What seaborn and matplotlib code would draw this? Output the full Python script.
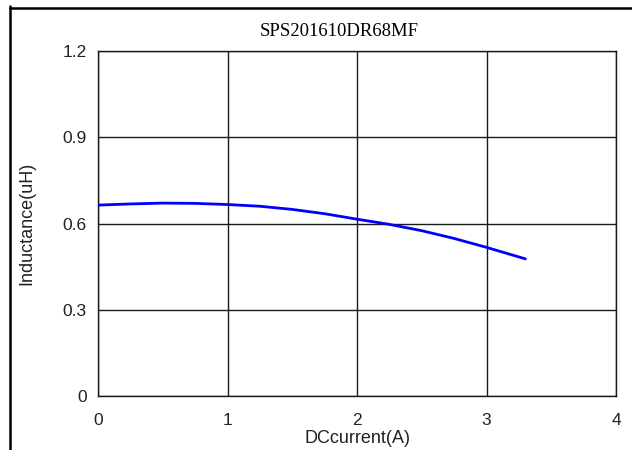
import matplotlib
matplotlib.use("Agg")
import matplotlib.pyplot as plt
from matplotlib.lines import Line2D
import seaborn as sns

# values
current_a = [0.0, 0.25, 0.5, 0.75, 1.0, 1.25, 1.5, 1.75, 2.0, 2.25, 2.5, 2.75, 3.0, 3.3]
inductance_uh = [0.664, 0.668, 0.671, 0.670, 0.666, 0.660, 0.649, 0.634, 0.615, 0.597,
                 0.575, 0.548, 0.517, 0.477]

x_ticks = [0, 1, 2, 3, 4]
x_tick_labels = ["0", "1", "2", "3", "4"]
y_ticks = [0, 0.3, 0.6, 0.9, 1.2]
y_tick_labels = ["0", "0.3", "0.6", "0.9", "1.2"]

TITLE = "SPS201610DR68MF"
W, H = 632, 450

sns.set_style("white")
plt.rcParams["font.family"] = ["Liberation Sans", "DejaVu Sans"]

fig = plt.figure(figsize=(W / 100, H / 100), dpi=100)
ax = fig.add_axes([98 / W, (H - 396) / H, 518 / W, 345 / H])

sns.lineplot(x=current_a, y=inductance_uh, ax=ax, color="#0000ff", linewidth=2.0,
             sort=False, zorder=3)

ax.set_xlim(0, 4)
ax.set_ylim(0, 1.2)
ax.set_xticks(x_ticks)
ax.set_xticklabels(x_tick_labels)
ax.set_yticks(y_ticks)
ax.set_yticklabels(y_tick_labels)
ax.tick_params(axis="both", length=0, labelsize=12.5, colors="#222222")
ax.tick_params(axis="x", pad=12)
ax.tick_params(axis="y", pad=8)

ax.grid(True, color="#1a1a1a", linewidth=1.0)
for sp in ax.spines.values():
    sp.set_visible(True)
    sp.set_color("#1a1a1a")
    sp.set_linewidth(1.0)

ax.set_xlabel("DCcurrent(A)", fontsize=13, color="#222222", labelpad=2)
ax.set_ylabel("Inductance(uH)", fontsize=13, color="#222222", va="center")
ax.yaxis.set_label_coords((26.5 - 98) / 518, 0.5)

fig.text(339.6 / W, 1 - 32 / H, TITLE, ha="center", va="center",
         family=["Liberation Serif", "DejaVu Serif"], fontsize=13.5, color="black")

# outer frame (only the top and left edges show in the cropped reference)
fig.add_artist(Line2D([10.5 / W, 10.5 / W], [0, 1 - 6 / H], transform=fig.transFigure,
                      color="black", linewidth=1.8))
fig.add_artist(Line2D([9.5 / W, 1], [1 - 7.5 / H, 1 - 7.5 / H], transform=fig.transFigure,
                      color="black", linewidth=1.8))

fig.savefig("out.png", dpi=100)
